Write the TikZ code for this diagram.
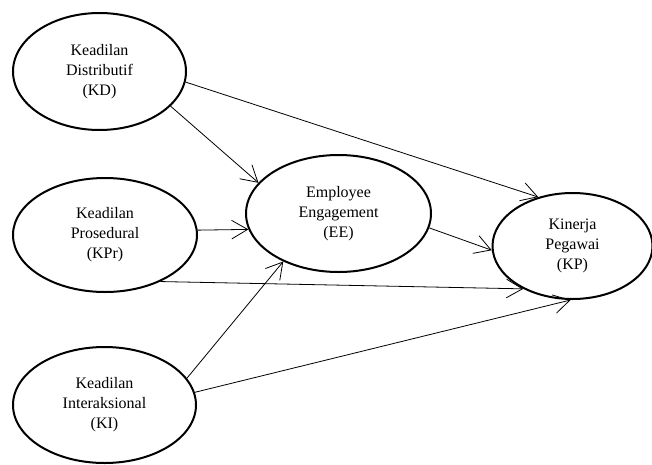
\documentclass[tikz,border=0pt]{standalone}
\usepackage{fontspec}
\setmainfont{Liberation Serif}
\usetikzlibrary{shapes.geometric,arrows.meta}

\begin{document}
\begin{tikzpicture}[
  x=0.75pt, y=-0.75pt,
  latent/.style={ellipse, draw, line width=1.5pt, inner sep=0pt, align=center, font=\fontsize{12}{15}\selectfont},
  arrow/.style={-{Straight Barb[length=12pt, width=14pt]}, line width=0.6pt}
]
\useasboundingbox (0,0) rectangle (652,464);
\node[latent, minimum width=129.75pt, minimum height=87.75pt] (KD) at (99.5,71.5) {Keadilan\\Distributif\\(KD)};
\node[latent, minimum width=138pt, minimum height=85.5pt] (KPr) at (105,235) {Keadilan\\Prosedural\\(KPr)};
\node[latent, minimum width=137.25pt, minimum height=87pt] (KI) at (104.5,405) {Keadilan\\Interaksional\\(KI)};
\node[latent, minimum width=138.75pt, minimum height=87.75pt] (EE) at (338.5,213.5) {Employee\\Engagement\\(EE)};
\node[latent, minimum width=120pt, minimum height=79.5pt] (KP) at (572.5,246) {Kinerja\\Pegawai\\(KP)};
% paths to the mediator
\draw[arrow] (KD.-26) -- (EE.159);
\draw[arrow] (KPr.3.7) -- (EE.190);
\draw[arrow] (KI.18) -- (EE.221);
% direct paths to performance
\draw[arrow] (KD.-7.6) -- (KP.125);
\draw[arrow] (KPr.-40) -- (KP.221);
\draw[arrow] (KI.8) -- (KP.268);
\draw[arrow] (EE.-9.5) -- (KP.183);
\end{tikzpicture}
\end{document}
